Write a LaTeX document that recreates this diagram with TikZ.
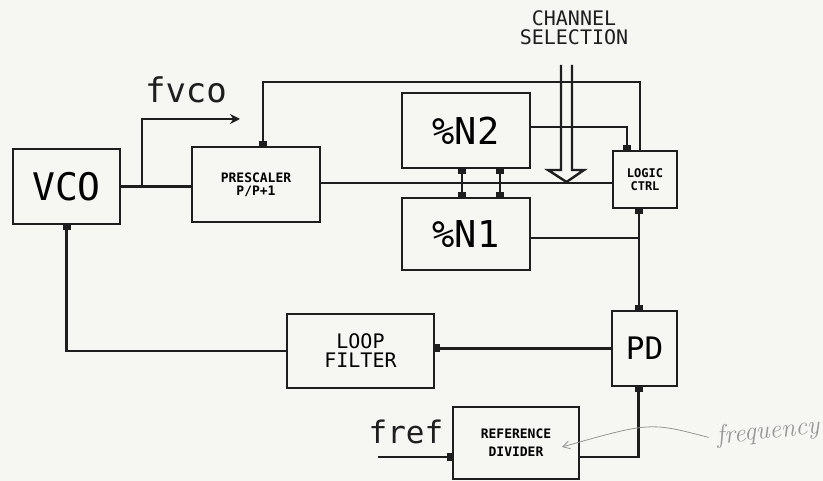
\documentclass[tikz,border=0pt]{standalone}
\usepackage{fontspec}
\setmonofont{DejaVu Sans Mono}
\usetikzlibrary{arrows.meta}
\definecolor{paper}{RGB}{246,246,243}
\definecolor{ink}{RGB}{30,30,30}
\definecolor{pencil}{RGB}{150,150,150}
\tikzset{
  box/.style={draw=ink, line width=2.8pt, inner sep=0pt, font=\ttfamily},
  wire/.style={draw=ink, line width=2.8pt},
  mk/.tip={Square[length=5pt,width=8pt]},
  lbl/.style={font=\ttfamily, text=ink, inner sep=0pt, align=center},
}
\begin{document}
\begin{tikzpicture}[x=1pt,y=-1pt]
\fill[paper] (0,0) rectangle (823,481);
\useasboundingbox (0,0) rectangle (823,481);

% boxes
\node[box, minimum width=107pt, minimum height=75pt, font=\ttfamily\fontsize{38}{38}\selectfont] (vco) at (66.5,186.5) {VCO};
\node[box, minimum width=128pt, minimum height=75pt, font=\ttfamily\bfseries\fontsize{13}{13}\selectfont, align=left] (pre) at (256,184.5) {PRESCALER\\\ \ P/P+1};
\node[box, minimum width=128pt, minimum height=75pt, font=\ttfamily\fontsize{37}{37}\selectfont] (n2) at (466,130.5) {\%N2};
\node[box, minimum width=128pt, minimum height=72pt, font=\ttfamily\fontsize{37}{37}\selectfont] (n1) at (466,234) {\%N1};
\node[box, minimum width=64pt, minimum height=57pt, font=\ttfamily\bfseries\fontsize{12}{13}\selectfont, align=center] (logic) at (645,179.5) {LOGIC\\CTRL};
\node[box, minimum width=65pt, minimum height=75pt, font=\ttfamily\fontsize{31}{31}\selectfont] (pd) at (644.5,348.5) {PD};
\node[box, minimum width=147pt, minimum height=74pt, font=\ttfamily\fontsize{20}{19}\selectfont, align=center] (lf) at (360.5,351) {LOOP\\FILTER};
\node[box, minimum width=126pt, minimum height=72pt, font=\ttfamily\bfseries\fontsize{13}{18}\selectfont, align=center] (rd) at (516,443) {REFERENCE\\DIVIDER};

% labels
\node[lbl, font=\ttfamily\fontsize{34}{34}\selectfont] (fvco) at (186,90) {fvco};
\node[lbl, font=\ttfamily\fontsize{31}{31}\selectfont] (fref) at (406,432) {fref};
\node[lbl, font=\ttfamily\fontsize{20}{19}\selectfont] (chsel) at (574,28) {CHANNEL\\SELECTION};
\node[text=pencil, font=\itshape\fontsize{26}{26}\selectfont, rotate=6, inner sep=0pt] (note) at (768,432) {frequency};

% VCO -> prescaler and fvco branch
\draw[wire] (vco.east) -- (vco.east -| pre.west);
\coordinate (br) at (142,186.5);
\coordinate (fv) at (240,119);
\draw[wire, -{Stealth[length=10pt,width=10pt]}] (br) |- (fv);

% prescaler -> logic ctrl
\draw[wire] (pre.east |- 0,183) -- (logic.west |- 0,183);

% logic ctrl -> prescaler (top feedback)
\coordinate (tl) at (263,82);
\draw[wire, -mk] ([xshift=-5pt]logic.north) |- (tl) -- (tl |- pre.north);

% N2 -> logic ctrl
\draw[wire, -mk] (n2.east |- 0,127) -| ([xshift=-18pt]logic.north);

% N2 <-> N1
\draw[wire, mk-mk] ([xshift=-4pt]n2.south) -- ([xshift=-4pt]n1.north);
\draw[wire, mk-mk] ([xshift=34pt]n2.south) -- ([xshift=34pt]n1.north);

% logic ctrl <-> PD, N1 output
\draw[wire, mk-mk] ([xshift=-6pt]logic.south) -- ([xshift=-6pt]logic.south |- pd.north);
\coordinate (j1) at ([xshift=-6pt]logic.south |- 0,238);
\draw[wire] (n1.east |- 0,238) -- (j1);

% PD -> loop filter -> VCO
\draw[wire, -mk] (pd.west) -- (pd.west -| lf.east);
\draw[wire, -mk] (lf.west) -| (vco.south);

% reference divider
\draw[wire, -mk] (rd.east |- 0,457) -| ([xshift=-6pt]pd.south);
\coordinate (fin) at (378,457);
\draw[wire, -mk] (fin) -- (fin -| rd.west);

% channel selection double arrow
\draw[draw=ink, line width=2.4pt, line join=miter]
  (561,65) -- (561,170) -- (548,170) -- (566.5,182) -- (584,170) -- (572,170) -- (572,65);

% pencil note arrow
\coordinate (na) at (562,447);
\draw[pencil, line width=0.8pt, -{Straight Barb[length=7pt,width=8pt]}] ([xshift=-8pt]note.west) .. controls (650,422) .. (na);
\end{tikzpicture}
\end{document}
